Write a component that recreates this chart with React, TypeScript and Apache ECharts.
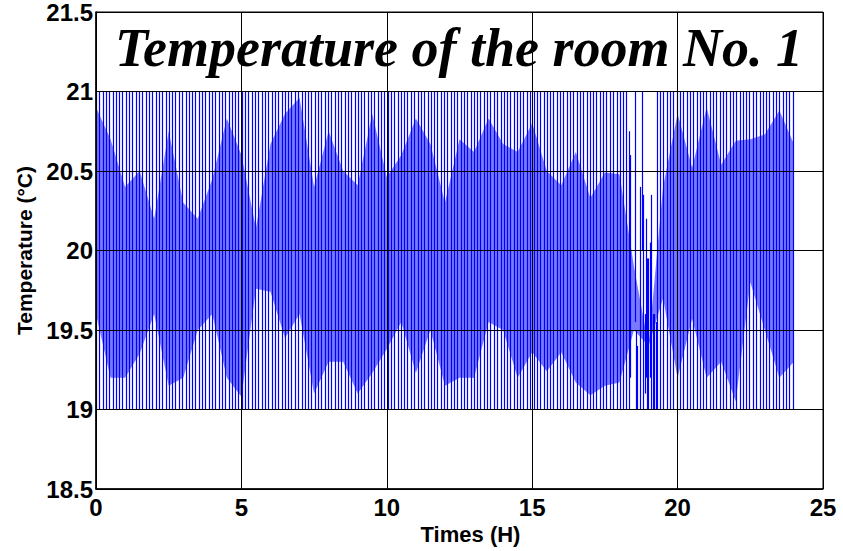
import React, { useEffect, useRef } from "react";
import * as echarts from "echarts";

// Thermostat limits reached by each full heating / cooling swing (°C)
const lowerSetpoint = 19;
const upperSetpoint = 21;

// Times (h) of the full 19 -> 21 °C swings
const fullSwingTimes = [
  0.0, 0.11, 0.23, 0.34, 0.45, 0.57, 0.68, 0.8, 0.91,
  1.02, 1.14, 1.25, 1.37, 1.48, 1.59, 1.71, 1.82, 1.94,
  2.05, 2.16, 2.28, 2.39, 2.51, 2.62, 2.73, 2.85, 2.96,
  3.08, 3.19, 3.3, 3.42, 3.53, 3.65, 3.76, 3.87, 3.99,
  4.1, 4.22, 4.33, 4.44, 4.56, 4.67, 4.79, 4.9,
  5.01, 5.13, 5.24, 5.36, 5.47, 5.58, 5.7, 5.81, 5.93,
  6.04, 6.15, 6.27, 6.38, 6.5, 6.61, 6.72, 6.84, 6.95,
  7.07, 7.18, 7.29, 7.41, 7.52, 7.64, 7.75, 7.86, 7.98,
  8.09, 8.21, 8.32, 8.43, 8.55, 8.66, 8.78, 8.89,
  9.0, 9.12, 9.23, 9.35, 9.46, 9.57, 9.69, 9.8, 9.92,
  10.03, 10.14, 10.26, 10.37, 10.49, 10.6, 10.71, 10.83, 10.94,
  11.06, 11.17, 11.28, 11.4, 11.51, 11.63, 11.74, 11.85, 11.97,
  12.08, 12.2, 12.31, 12.42, 12.54, 12.65, 12.77, 12.88, 12.99,
  13.11, 13.22, 13.34, 13.45, 13.56, 13.68, 13.79, 13.91,
  14.02, 14.13, 14.25, 14.36, 14.48, 14.59, 14.7, 14.82, 14.93,
  15.05, 15.16, 15.27, 15.39, 15.5, 15.62, 15.73, 15.84, 15.96,
  16.07, 16.19, 16.3, 16.41, 16.53, 16.64, 16.76, 16.87, 16.98,
  17.1, 17.21, 17.33, 17.44, 17.55, 17.67, 17.78, 17.9,
  18.01, 18.12, 18.24,
  19.28, 19.4, 19.51, 19.62, 19.74, 19.85, 19.97,
  20.08, 20.19, 20.31, 20.42, 20.54, 20.65, 20.76, 20.88, 20.99,
  21.11, 21.22, 21.33, 21.45, 21.56, 21.68, 21.79, 21.9,
  22.02, 22.13, 22.25, 22.36, 22.47, 22.59, 22.7, 22.82, 22.93,
  23.04, 23.16, 23.27, 23.39, 23.5, 23.61, 23.73, 23.84, 23.96,
];

// Irregular swings around 18.4 - 19.3 h: [time, low, high]
const partialSwings = [
  [18.33, 19.0, 20.75],
  [18.38, 19.2, 20.6],
  [18.52, 19.55, 21.0],
  [18.58, 19.0, 19.5],
  [18.62, 19.0, 19.4],
  [18.69, 19.0, 20.4],
  [18.76, 20.0, 21.0],
  [18.82, 19.0, 20.35],
  [18.88, 19.1, 19.6],
  [18.92, 19.2, 20.2],
  [18.96, 19.0, 19.95],
  [18.99, 19.0, 19.95],
  [19.05, 19.2, 20.05],
  [19.1, 19.0, 20.35],
  [19.14, 19.0, 19.6],
  [19.19, 19.0, 19.6],
  [19.25, 19.0, 19.55],
];

// Envelope of the dense (shaded) oscillation band
const bandTimes = [
  0, 0.5, 1, 1.5, 2, 2.5, 3, 3.5, 4, 4.5, 5, 5.5, 6, 6.5, 7, 7.5, 8, 8.5, 9, 9.5,
  10, 10.5, 11, 11.5, 12, 12.5, 13, 13.5, 14, 14.5, 15, 15.5, 16, 16.5, 17, 17.5,
  18, 18.5, 19, 19.5, 20, 20.5, 21, 21.5, 22, 22.5, 23, 23.5, 24,
];
const bandTop = [
  20.9, 20.7, 20.4, 20.5, 20.2, 20.75, 20.3, 20.2, 20.45, 20.83, 20.6, 20.14, 20.67, 20.86, 20.96, 20.4, 20.75, 20.5, 20.41, 20.86,
  20.46, 20.6, 20.83, 20.67, 20.3, 20.7, 20.62, 20.83, 20.67, 20.62, 20.8, 20.5, 20.41, 20.62, 20.33, 20.49,
  20.48, 19.9, 19.4, 20.4, 20.86, 20.52, 20.9, 20.54, 20.69, 20.7, 20.73, 20.88, 20.67,
];
const bandBottom = [
  19.6, 19.2, 19.2, 19.35, 19.6, 19.15, 19.2, 19.5, 19.6, 19.2, 19.08, 19.76, 19.74, 19.45, 19.6, 19.1, 19.3, 19.3, 19.1, 19.23,
  19.38, 19.55, 19.23, 19.5, 19.15, 19.2, 19.2, 19.55, 19.5, 19.2, 19.36, 19.24, 19.36, 19.17, 19.09, 19.15,
  19.17, 19.5, 19.4, 19.7, 19.2, 19.57, 19.2, 19.3, 19.05, 19.8, 19.5, 19.2, 19.3,
];

const xTicks = { min: 0, max: 25, interval: 5 };
const yTicks = { min: 18.5, max: 21.5, interval: 0.5 };

export default function App() {
  const ref = useRef<HTMLDivElement>(null);

  useEffect(() => {
    if (!ref.current) return;
    const chart = echarts.init(ref.current, undefined, { renderer: "svg" });

    const swings = [
      ...fullSwingTimes.map((t) => [t, lowerSetpoint, upperSetpoint]),
      ...partialSwings,
    ];
    const bandData = bandTimes.map((t, i) => [t, bandBottom[i], bandTop[i]]);

    const labelFont = {
      color: "#000",
      fontFamily: '"Liberation Sans", Arial, Helvetica, sans-serif',
      fontWeight: "bold" as const,
    };

    chart.setOption({
      animation: false,
      backgroundColor: "#fff",
      grid: {
        left: 96,
        top: 12,
        right: 20,
        bottom: 62,
        show: true,
        borderColor: "#000",
        borderWidth: 1,
        backgroundColor: "transparent",
      },
      xAxis: {
        type: "value",
        ...xTicks,
        z: 10,
        name: "Times (H)",
        nameLocation: "middle",
        nameGap: 31,
        nameTextStyle: { ...labelFont, fontSize: 22, verticalAlign: "top", padding: [0, 0, 0, 22] },
        axisLine: { show: true, onZero: false, lineStyle: { color: "#000", width: 1.5 } },
        axisTick: { show: false },
        axisLabel: { ...labelFont, fontSize: 24, margin: 6 },
        splitLine: { show: true, lineStyle: { color: "#000", width: 1 } },
      },
      yAxis: {
        type: "value",
        ...yTicks,
        z: 10,
        name: "Temperature (°C)",
        nameLocation: "middle",
        nameGap: 60,
        nameRotate: 90,
        nameTextStyle: { ...labelFont, fontSize: 21 },
        axisLine: { show: true, onZero: false, lineStyle: { color: "#000", width: 1.5 } },
        axisTick: { show: false },
        axisLabel: {
          ...labelFont,
          fontSize: 24,
          margin: 3,
          padding: [12, 0, 0, 0],
          formatter: (v: number) => String(v),
        },
        splitLine: { show: true, lineStyle: { color: "#000", width: 1 } },
      },
      graphic: [
        {
          type: "text",
          x: 459,
          y: 48,
          z: 100,
          style: {
            text: "Temperature of the room No. 1",
            fill: "#000",
            font: 'italic bold 54px "Liberation Serif", "Times New Roman", serif',
            textAlign: "center",
            textVerticalAlign: "middle",
            verticalAlign: "middle",
          },
        },
      ],
      series: [
        {
          type: "custom",
          name: "band",
          z: 2,
          clip: true,
          data: bandData,
          encode: { x: 0, y: [1, 2] },
          renderItem: (params: any, api: any) => {
            if (params.dataIndex !== 0) return null;
            const upper: number[][] = [];
            const lower: number[][] = [];
            for (let i = 0; i < bandData.length; i++) {
              upper.push(api.coord([bandData[i][0], bandData[i][2]]));
              lower.push(api.coord([bandData[i][0], bandData[i][1]]));
            }
            const points = upper.concat(lower.reverse());
            return {
              type: "polygon",
              shape: { points },
              style: { fill: "#7a7aff", stroke: "none" },
            };
          },
        },
        {
          type: "custom",
          name: "temperature",
          z: 3,
          clip: true,
          data: swings,
          encode: { x: 0, y: [1, 2] },
          renderItem: (params: any, api: any) => {
            const t = api.value(0);
            const p1 = api.coord([t, api.value(1)]);
            const p2 = api.coord([t, api.value(2)]);
            const x = Math.round(p1[0]) + 0.5;
            return {
              type: "line",
              shape: { x1: x, y1: p1[1], x2: x, y2: p2[1] },
              style: { stroke: "#0000ff", lineWidth: 1.2 },
            };
          },
        },
      ],
    });

    return () => chart.dispose();
  }, []);

  return (
    <div
      ref={ref}
      style={{ position: "fixed", left: 0, top: 0, width: 843, height: 551, background: "#fff" }}
    />
  );
}
